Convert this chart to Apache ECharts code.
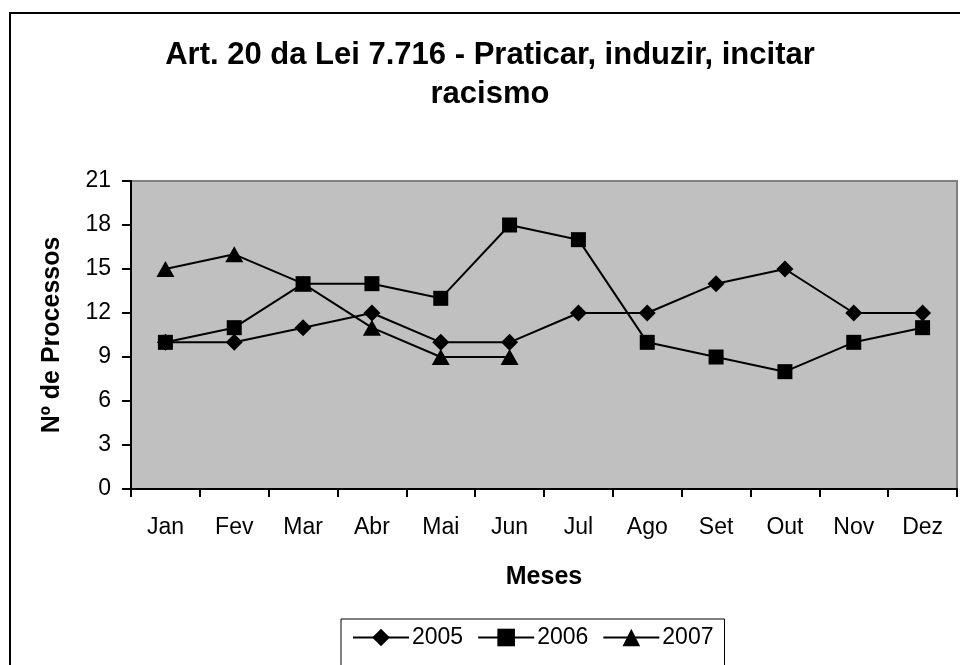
<!DOCTYPE html>
<html>
<head>
<meta charset="utf-8">
<script src="https://cdn.jsdelivr.net/npm/echarts@6/dist/echarts.min.js"></script>
<style>
html,body{margin:0;padding:0;background:#fff;}
#c{width:960px;height:665px;}
</style>
</head>
<body>
<div id="c"></div>
<script>
var months = ['Jan','Fev','Mar','Abr','Mai','Jun','Jul','Ago','Set','Out','Nov','Dez'];
var s2005 = [10,10,11,12,10,10,12,12,14,15,12,12];
var s2006 = [10,11,14,14,13,18,17,10,9,8,10,11];
var s2007 = [15,16,14,11,9,9,null,null,null,null,null,null];
var seriesNames = ['2005','2006','2007'];
var titleText = 'Art. 20 da Lei 7.716 - Praticar, induzir, incitar\nracismo';
var yName = 'Nº de Processos';
var xName = 'Meses';

var FONT = '"Liberation Sans", Arial, sans-serif';
var chart = echarts.init(document.getElementById('c'), null, {renderer:'canvas'});
function mk(name, data, symbol, size){
  return {
    name: name, type: 'line', data: data, symbol: symbol, symbolSize: size,
    showSymbol: true, connectNulls: false,
    lineStyle: {color:'#000', width: 2},
    itemStyle: {color:'#000', borderWidth: 0},
    emphasis: {disabled: true},
    animation: false
  };
}
chart.setOption({
  backgroundColor: '#fff',
  animation: false,
  textStyle: {fontFamily: FONT},
  title: {
    text: titleText, left: 490, top: 36, textAlign: 'center', padding: 0,
    textStyle: {fontFamily: FONT, fontWeight: 'bold', fontSize: 31, lineHeight: 39, color: '#000'}
  },
  graphic: [{
    type: 'rect', z: 100, silent: true,
    shape: {x: 10, y: 13, width: 1000, height: 1000},
    style: {fill: 'none', stroke: '#000', lineWidth: 2}
  }],
  legend: {
    data: seriesNames, left: 341, top: 619,
    padding: [7, 11, 40, 11],
    itemWidth: 56, itemHeight: 22, itemGap: 14,
    borderColor: '#000', borderWidth: 1, backgroundColor: '#fff',
    textStyle: {fontFamily: FONT, fontSize: 23, color: '#000', padding: [0,0,0,-2]},
    selectedMode: false
  },
  grid: {
    left: 131, top: 181, width: 826, height: 308,
    show: true, backgroundColor: '#C0C0C0', borderColor: '#808080', borderWidth: 2
  },
  xAxis: {
    type: 'category', data: months, boundaryGap: true,
    name: xName, nameLocation: 'middle', nameGap: 76,
    nameTextStyle: {fontFamily: FONT, fontWeight: 'bold', fontSize: 25, color: '#000'},
    axisLine: {show: true, lineStyle: {color: '#000', width: 2}},
    axisTick: {show: true, length: 8, inside: false, alignWithLabel: false, lineStyle: {color:'#000', width: 2}},
    axisLabel: {fontFamily: FONT, fontSize: 23, color: '#000', margin: 27, interval: 0},
    splitLine: {show: false}
  },
  yAxis: {
    type: 'value', min: 0, max: 21, interval: 3,
    name: yName, nameLocation: 'middle', nameGap: 66, nameRotate: 90,
    nameTextStyle: {fontFamily: FONT, fontWeight: 'bold', fontSize: 25, color: '#000'},
    axisLine: {show: true, lineStyle: {color: '#000', width: 2}},
    axisTick: {show: true, length: 9, inside: false, lineStyle: {color:'#000', width: 2}},
    axisLabel: {fontFamily: FONT, fontSize: 23, color: '#000', margin: 20},
    splitLine: {show: false}
  },
  series: [
    mk('2005', s2005, 'diamond', 17),
    mk('2006', s2006, 'rect', 15),
    mk('2007', s2007, 'triangle', [18,16])
  ]
});
</script>
</body>
</html>
